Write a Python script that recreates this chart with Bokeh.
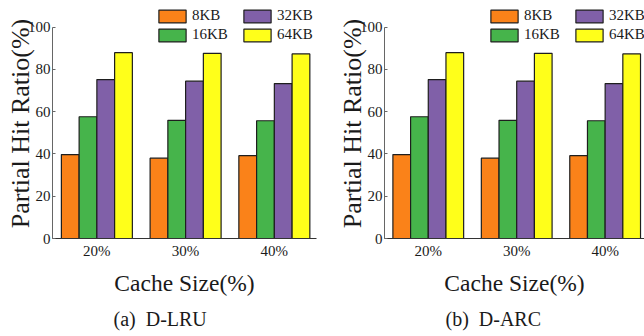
from bokeh.plotting import figure
from bokeh.layouts import row
from bokeh.models import (ColumnDataSource, FixedTicker, Legend, LegendItem,
                          Range1d, Title)
from bokeh.transform import dodge
from bokeh.embed import file_html
from bokeh.resources import INLINE

# ---------------- data ----------------
categories = ["20%", "30%", "40%"]
series = ["8KB", "16KB", "32KB", "64KB"]
colors = ["#FA8219", "#46B44B", "#8060A8", "#FFFF1A"]

lru_8kb = [39.7, 38.0, 39.2]
lru_16kb = [57.6, 55.9, 55.7]
lru_32kb = [75.2, 74.4, 73.3]
lru_64kb = [87.9, 87.6, 87.3]

arc_8kb = [39.7, 38.0, 39.2]
arc_16kb = [57.6, 55.9, 55.7]
arc_32kb = [75.2, 74.4, 73.3]
arc_64kb = [87.9, 87.6, 87.3]

y_ticks = [0, 20, 40, 60, 80, 100]

FONT = "Liberation Serif"
TXT = "#1a1a1a"


def make_panel(vals, caption, width, min_left, min_right, x_range):
    src = ColumnDataSource(dict(
        x=list(range(len(categories))),
        s0=vals[0], s1=vals[1], s2=vals[2], s3=vals[3],
    ))
    p = figure(width=width, height=336, output_backend="svg",
               toolbar_location=None, x_range=Range1d(*x_range),
               y_range=Range1d(0, 108.8),
               min_border_left=min_left, min_border_right=min_right,
               min_border_top=8, min_border_bottom=97)
    p.outline_line_color = None
    p.xgrid.visible = False
    p.ygrid.visible = False
    p.background_fill_color = "white"
    p.border_fill_color = "white"

    offsets = [-0.3, -0.1, 0.1, 0.3]
    rends = []
    for i, (name, col) in enumerate(zip(series, colors)):
        r = p.vbar(x=dodge("x", offsets[i], range=p.x_range), top="s%d" % i,
                   width=0.2, bottom=0, source=src, fill_color=col,
                   line_color="#1e1e1e", line_width=1.2)
        rends.append(r)

    # x axis
    xa = p.xaxis[0]
    xa.ticker = FixedTicker(ticks=list(range(len(categories))))
    xa.major_label_overrides = {i: c for i, c in enumerate(categories)}
    xa.major_tick_in = 0
    xa.major_tick_out = 0
    xa.minor_tick_line_color = None
    xa.axis_line_color = "#333333"
    xa.axis_line_width = 1.2
    xa.major_label_text_font = FONT
    xa.major_label_text_font_size = "15px"
    xa.major_label_text_color = TXT
    xa.major_label_standoff = 4
    xa.axis_label = "Cache Size(%)"
    xa.axis_label_text_font = FONT
    xa.axis_label_text_font_size = "23.5px"
    xa.axis_label_text_font_style = "normal"
    xa.axis_label_text_color = TXT
    xa.axis_label_standoff = 8

    # y axis
    ya = p.yaxis[0]
    ya.ticker = FixedTicker(ticks=y_ticks)
    ya.bounds = (0, 100)
    ya.major_tick_in = 3
    ya.major_tick_out = 0
    ya.minor_tick_line_color = None
    ya.axis_line_color = "#666666"
    ya.major_tick_line_color = "#666666"
    ya.major_label_text_font = FONT
    ya.major_label_text_font_size = "15px"
    ya.major_label_text_color = TXT
    ya.major_label_standoff = 2
    ya.axis_label = "Partial Hit Ratio(%)"
    ya.axis_label_text_font = FONT
    ya.axis_label_text_font_size = "26px"
    ya.axis_label_text_font_style = "normal"
    ya.axis_label_text_color = TXT
    ya.axis_label_standoff = -10

    # legends: two columns
    for k, (xpos, idxs) in enumerate([(103, [0, 1]), (188, [2, 3])]):
        items = [LegendItem(label=series[j], renderers=[rends[j]]) for j in idxs]
        lg = Legend(items=items, location=(xpos, 195), orientation="vertical",
                    glyph_width=34, glyph_height=16, label_height=16,
                    label_standoff=3, spacing=2, padding=0, margin=0,
                    border_line_color=None, background_fill_alpha=0,
                    label_text_font=FONT, label_text_font_size="15px",
                    label_text_color=TXT)
        p.add_layout(lg, "center")

    cap = Title(text=caption, align="left", offset=61,
                text_font=FONT, text_font_size="20px",
                text_font_style="normal", text_color=TXT, standoff=14)
    p.add_layout(cap, "below")
    return p


p1 = make_panel([lru_8kb, lru_16kb, lru_32kb, lru_64kb],
                "(a)\u00a0\u00a0D-LRU", 322, 52, 6, (-0.5, 2.475))
p2 = make_panel([arc_8kb, arc_16kb, arc_32kb, arc_64kb],
                "(b)\u00a0\u00a0D-ARC", 322, 62, 0, (-0.495, 2.445))

layout = row(p1, p2, spacing=0)
open("out.html", "w").write(file_html(layout, INLINE))
